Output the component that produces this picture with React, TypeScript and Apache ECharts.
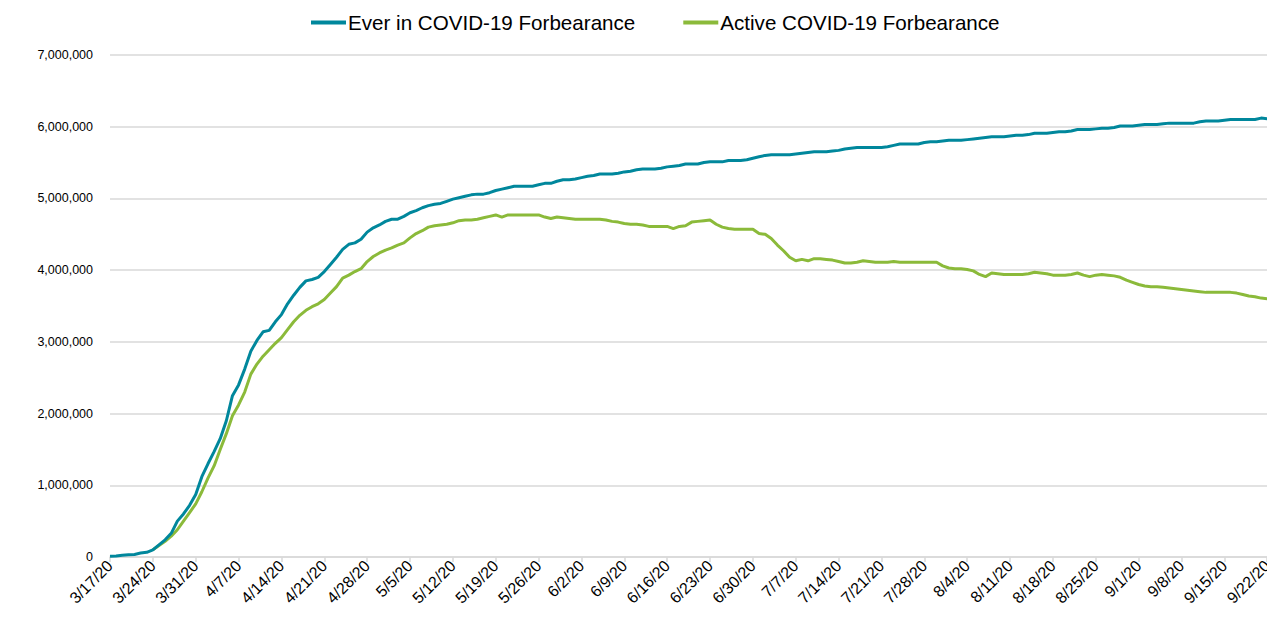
import React, { useEffect, useRef } from "react";
import * as echarts from "echarts";

const START = { year: 2020, month: 3, day: 17 };
const DAY_COUNT = 190;

const seriesNames = ["Ever in COVID-19 Forbearance", "Active COVID-19 Forbearance"];

// thousands
const everInForbearance: number[] = [
  10, 15, 25, 30, 35, 55, 65, 100, 170, 240,
  330, 500, 600, 720, 870, 1120, 1300, 1470, 1650, 1900,
  2250, 2400, 2620, 2870, 3020, 3140, 3160, 3280, 3380, 3530,
  3650, 3760, 3850, 3870, 3900, 3980, 4080, 4180, 4290, 4360,
  4380, 4430, 4530, 4590, 4630, 4680, 4710, 4710, 4750, 4800,
  4830, 4870, 4900, 4920, 4930, 4960, 4990, 5010, 5030, 5050,
  5060, 5060, 5080, 5110, 5130, 5150, 5170, 5170, 5170, 5170,
  5190, 5210, 5210, 5240, 5260, 5260, 5270, 5290, 5310, 5320,
  5340, 5340, 5340, 5350, 5370, 5380, 5400, 5410, 5410, 5410,
  5420, 5440, 5450, 5460, 5480, 5480, 5480, 5500, 5510, 5510,
  5510, 5530, 5530, 5530, 5540, 5560, 5580, 5600, 5610, 5610,
  5610, 5610, 5620, 5630, 5640, 5650, 5650, 5650, 5660, 5670,
  5690, 5700, 5710, 5710, 5710, 5710, 5710, 5720, 5740, 5760,
  5760, 5760, 5760, 5780, 5790, 5790, 5800, 5810, 5810, 5810,
  5820, 5830, 5840, 5850, 5860, 5860, 5860, 5870, 5880, 5880,
  5890, 5910, 5910, 5910, 5920, 5930, 5930, 5940, 5960, 5960,
  5960, 5970, 5980, 5980, 5990, 6010, 6010, 6010, 6020, 6030,
  6030, 6030, 6040, 6050, 6050, 6050, 6050, 6050, 6070, 6080,
  6080, 6080, 6090, 6100, 6100, 6100, 6100, 6100, 6120, 6110,
];

// thousands (null before the series begins)
const activeForbearance: (number | null)[] = [
  null, null, null, null, null, null, null, 100, 160, 220,
  290, 380, 500, 620, 740, 910, 1100, 1270, 1500, 1720,
  1970, 2120, 2300, 2550, 2690, 2800, 2890, 2980, 3060, 3170,
  3280, 3370, 3440, 3490, 3530, 3590, 3680, 3770, 3890, 3930,
  3980, 4020, 4120, 4190, 4240, 4280, 4310, 4350, 4380, 4450,
  4510, 4550, 4600, 4620, 4630, 4640, 4660, 4690, 4700, 4700,
  4710, 4730, 4750, 4770, 4740, 4770, 4770, 4770, 4770, 4770,
  4770, 4740, 4720, 4740, 4730, 4720, 4710, 4710, 4710, 4710,
  4710, 4700, 4680, 4670, 4650, 4640, 4640, 4630, 4610, 4610,
  4610, 4610, 4580, 4610, 4620, 4670, 4680, 4690, 4700, 4640,
  4600, 4580, 4570, 4570, 4570, 4570, 4510, 4500, 4440, 4350,
  4270, 4180, 4130, 4150, 4130, 4160, 4160, 4150, 4140, 4120,
  4100, 4100, 4110, 4130, 4120, 4110, 4110, 4110, 4120, 4110,
  4110, 4110, 4110, 4110, 4110, 4110, 4060, 4030, 4020, 4020,
  4010, 3990, 3940, 3910, 3960, 3950, 3940, 3940, 3940, 3940,
  3950, 3970, 3960, 3950, 3930, 3930, 3930, 3940, 3960, 3930,
  3910, 3930, 3940, 3930, 3920, 3900, 3860, 3830, 3800, 3780,
  3770, 3770, 3760, 3750, 3740, 3730, 3720, 3710, 3700, 3690,
  3690, 3690, 3690, 3690, 3680, 3660, 3640, 3630, 3610, 3600,
];

const yTicks = { min: 0, max: 7000000, interval: 1000000 };

function buildDates(): string[] {
  const out: string[] = [];
  const d = new Date(START.year, START.month - 1, START.day);
  for (let i = 0; i < DAY_COUNT; i++) {
    out.push(`${d.getMonth() + 1}/${d.getDate()}/${String(d.getFullYear()).slice(2)}`);
    d.setDate(d.getDate() + 1);
  }
  return out;
}

const categories = buildDates();

export default function App() {
  const ref = useRef<HTMLDivElement>(null);
  useEffect(() => {
    if (!ref.current) return;
    const chart = echarts.init(ref.current, undefined, { renderer: "svg" });
    const font = "Liberation Sans, Arial, sans-serif";
    chart.setOption({
      animation: false,
      textStyle: { fontFamily: font },
      legend: {
        top: -1,
        left: 298,
        itemWidth: 35,
        itemHeight: 4,
        itemGap: 48,
        icon: "rect",
        textStyle: { fontSize: 20.6, color: "#000", fontFamily: font, padding: [0, 0, 0, -3] },
        data: seriesNames,
      },
      grid: { left: 102, right: 7, top: 47, bottom: 66, containLabel: false },
      xAxis: {
        type: "category",
        data: categories,
        boundaryGap: false,
        axisLine: { lineStyle: { color: "#d9d9d9", width: 1.5 } },
        axisTick: { show: true, interval: 6, length: 5, lineStyle: { color: "#d9d9d9", width: 1.5 } },
        axisLabel: {
          interval: 6,
          rotate: 45,
          fontSize: 16,
          color: "#000",
          fontFamily: font,
          margin: 6,
        },
        splitLine: { show: false },
      },
      yAxis: {
        type: "value",
        min: yTicks.min,
        max: yTicks.max,
        interval: yTicks.interval,
        axisLine: { show: false },
        axisTick: { show: false },
        axisLabel: {
          fontSize: 12.5,
          color: "#000",
          fontFamily: font,
          margin: 17,
          formatter: (v: number) => v.toLocaleString("en-US"),
        },
        splitLine: { lineStyle: { color: "#d9d9d9", width: 1.5 } },
      },
      series: [
        {
          name: seriesNames[0],
          type: "line",
          data: everInForbearance.map((v) => v * 1000),
          showSymbol: false,
          symbol: "none",
          lineStyle: { color: "#00879C", width: 3 },
          itemStyle: { color: "#00879C" },
          z: 3,
        },
        {
          name: seriesNames[1],
          type: "line",
          data: activeForbearance.map((v) => (v == null ? null : v * 1000)),
          showSymbol: false,
          symbol: "none",
          lineStyle: { color: "#8BBA3A", width: 3 },
          itemStyle: { color: "#8BBA3A" },
          z: 2,
        },
      ],
    });
    return () => chart.dispose();
  }, []);
  return <div ref={ref} style={{ width: 1267, height: 615 }} />;
}
